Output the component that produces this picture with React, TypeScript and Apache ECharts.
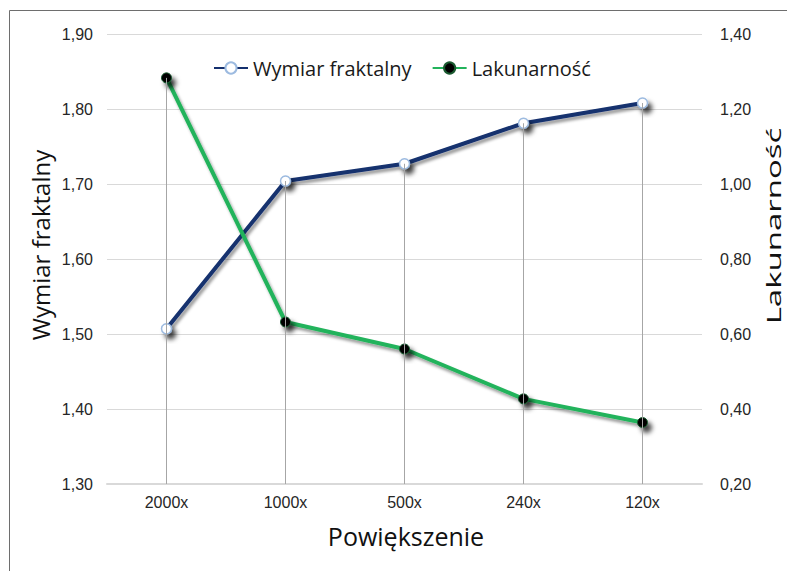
import React, { useEffect, useRef } from "react";
import * as echarts from "echarts";

const categories = ["2000x", "1000x", "500x", "240x", "120x"];
const fractalDim = [1.507, 1.704, 1.727, 1.781, 1.808];
const lacunarity = [1.283, 0.632, 0.56, 0.427, 0.364];
const leftName = "Wymiar fraktalny";
const rightName = "Lakunarność";
const xName = "Powiększenie";

const fmt = (v: number) => v.toFixed(2).replace(".", ",");

export default function App() {
  const ref = useRef<HTMLDivElement>(null);
  useEffect(() => {
    if (!ref.current) return;
    const chart = echarts.init(ref.current, null, { renderer: "svg" });
    const labelStyle = {
      fontFamily: "'Liberation Sans', Arial, sans-serif",
      fontSize: 16,
      color: "#262626",
    };
    const dropLines = (vals: number[], min: number) =>
      vals.map((v, i) => [
        { coord: [categories[i], v] },
        { coord: [categories[i], min] },
      ]);
    const markerShadow = {
      shadowColor: "rgba(0,0,0,0.75)",
      shadowBlur: 5,
      shadowOffsetX: 4,
      shadowOffsetY: 5,
    };
    chart.setOption({
      animation: false,
      backgroundColor: "#ffffff",
      grid: { left: 107, right: 85, top: 34, bottom: 87 },
      legend: {
        data: [leftName, rightName],
        left: 213,
        top: 58,
        padding: 0,
        itemWidth: 34,
        itemHeight: 14,
        itemGap: 20,
        textStyle: {
          fontFamily: "'Open Sans', sans-serif",
          fontSize: 20,
          color: "#1a1a1a",
        },
      },
      xAxis: {
        type: "category",
        data: categories,
        boundaryGap: true,
        axisLine: { show: true, lineStyle: { color: "#d9d9d9", width: 2 } },
        axisTick: { show: false },
        axisLabel: { ...labelStyle, margin: 10 },
        splitLine: { show: false },
      },
      yAxis: [
        {
          type: "value",
          min: 1.3,
          max: 1.9,
          interval: 0.1,
          axisLine: { show: false },
          axisTick: { show: false },
          axisLabel: { ...labelStyle, margin: 14, formatter: fmt },
          splitLine: { lineStyle: { color: "#d9d9d9", width: 1 } },
        },
        {
          type: "value",
          min: 0.2,
          max: 1.4,
          interval: 0.2,
          axisLine: { show: false },
          axisTick: { show: false },
          axisLabel: { ...labelStyle, margin: 18, formatter: fmt },
          splitLine: { show: false },
        },
      ],
      graphic: [
        {
          type: "rect",
          shape: { x: 9.5, y: 10.5, width: 900, height: 700 },
          style: { fill: "none", stroke: "#6e6e6e", lineWidth: 1 },
          silent: true,
          z: -10,
        },
        {
          type: "text",
          x: 40,
          y: 245,
          rotation: Math.PI / 2,
          style: {
            text: leftName,
            font: "24px 'Open Sans', sans-serif",
            fill: "#111111",
            align: "center",
            verticalAlign: "middle",
          },
        },
        {
          type: "text",
          x: 773,
          y: 226,
          rotation: Math.PI / 2,
          scaleX: 1.65,
          style: {
            text: rightName,
            font: "20px 'Open Sans', sans-serif",
            fill: "#111111",
            align: "center",
            verticalAlign: "middle",
          },
        },
        {
          type: "text",
          x: 406,
          y: 536,
          style: {
            text: xName,
            font: "25px 'Open Sans', sans-serif",
            fill: "#111111",
            align: "center",
            verticalAlign: "middle",
          },
        },
      ],
      series: [
        {
          name: "dropA",
          type: "line",
          data: fractalDim,
          yAxisIndex: 0,
          symbol: "none",
          lineStyle: { opacity: 0 },
          silent: true,
          z: 1,
          markLine: {
            symbol: "none",
            silent: true,
            label: { show: false },
            lineStyle: { color: "#a6a6a6", width: 1, type: "solid" },
            data: dropLines(fractalDim, 1.3),
          },
        },
        {
          name: "dropB",
          type: "line",
          data: lacunarity,
          yAxisIndex: 1,
          symbol: "none",
          lineStyle: { opacity: 0 },
          silent: true,
          z: 1,
          markLine: {
            symbol: "none",
            silent: true,
            label: { show: false },
            lineStyle: { color: "#a6a6a6", width: 1, type: "solid" },
            data: dropLines(lacunarity, 0.2),
          },
        },
        {
          name: leftName,
          type: "line",
          data: fractalDim,
          yAxisIndex: 0,
          z: 3,
          symbol: "circle",
          symbolSize: 10,
          lineStyle: {
            color: "#14306e",
            width: 4,
            shadowColor: "rgba(0,0,0,0.4)",
            shadowBlur: 3,
            shadowOffsetX: 2,
            shadowOffsetY: 3,
          },
          itemStyle: {
            color: "#ffffff",
            borderColor: "#9dbbe0",
            borderWidth: 1.5,
            ...markerShadow,
          },
        },
        {
          name: rightName,
          type: "line",
          data: lacunarity,
          yAxisIndex: 1,
          z: 3,
          symbol: "circle",
          symbolSize: 10,
          lineStyle: {
            color: "#22b35b",
            width: 4,
            shadowColor: "rgba(0,0,0,0.4)",
            shadowBlur: 3,
            shadowOffsetX: 2,
            shadowOffsetY: 3,
          },
          itemStyle: {
            color: "#000000",
            borderColor: "#1a5a30",
            borderWidth: 1,
            ...markerShadow,
          },
        },
      ],
    });
    return () => chart.dispose();
  }, []);
  return (
    <div
      ref={ref}
      style={{ position: "absolute", left: 0, top: 0, width: 787, height: 571 }}
    />
  );
}
